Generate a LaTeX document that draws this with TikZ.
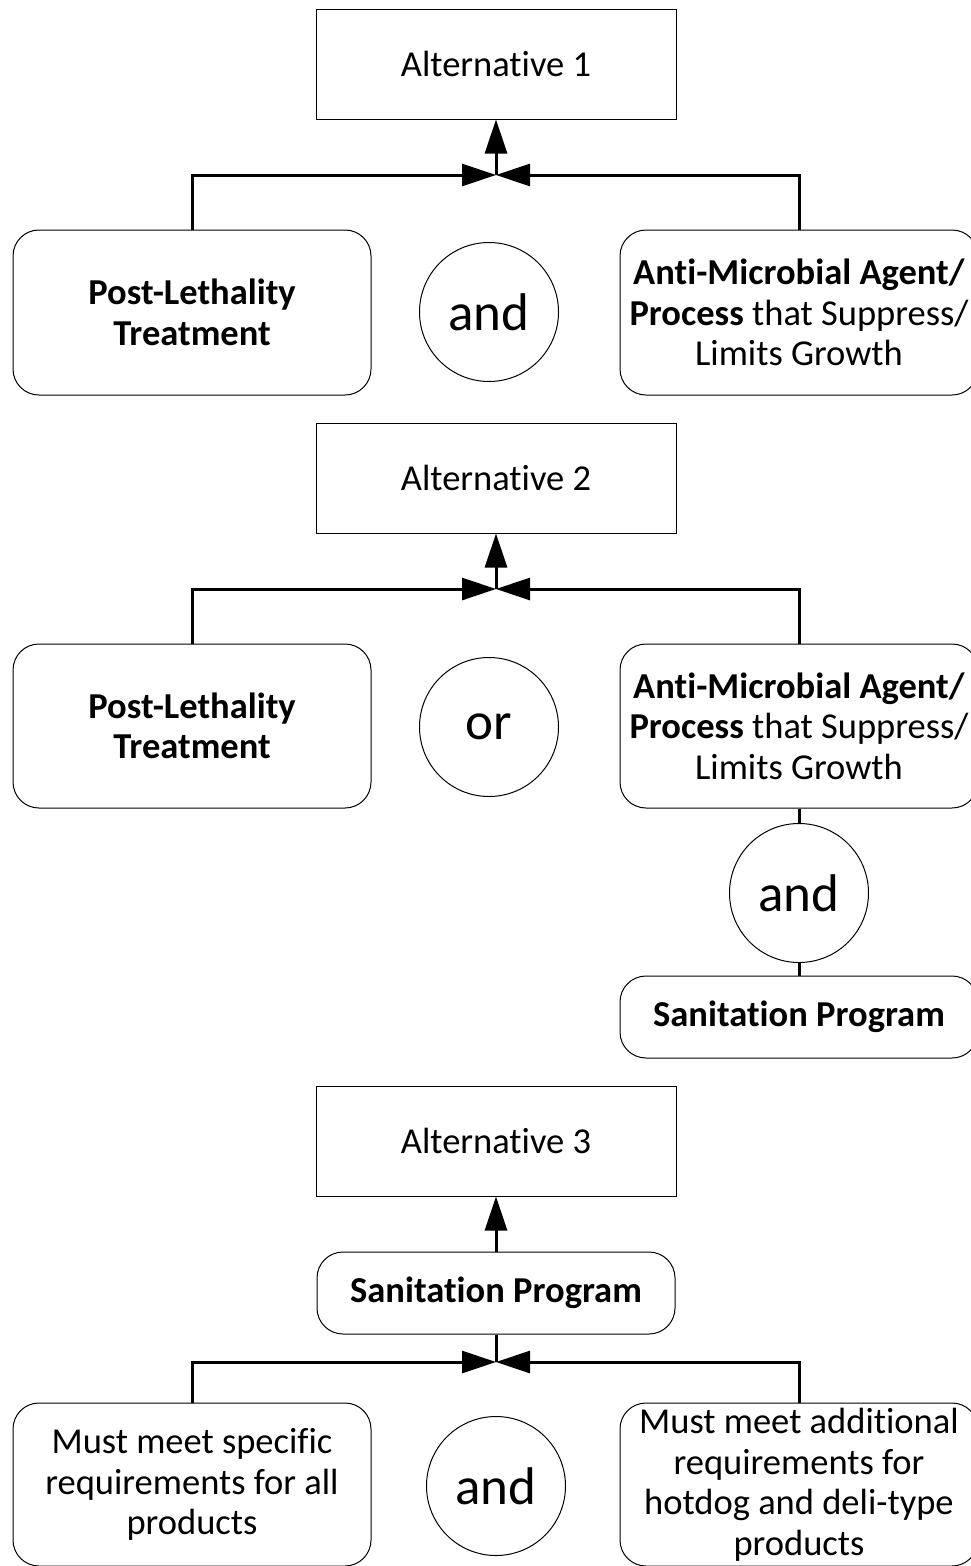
\documentclass[tikz,border=0pt]{standalone}
\usepackage{fontspec}
\setmainfont[Ligatures=NoCommon]{Carlito}
\usetikzlibrary{arrows.meta}
\begin{document}
\begin{tikzpicture}[x=1pt,y=-1pt,
  base/.style={font=\fontsize{36.5}{40.5}\selectfont, align=center, inner sep=0pt, draw=black, line width=1pt},
  altbox/.style={base, rectangle, minimum width=360pt, minimum height=110pt},
  rbox/.style={base, rectangle, rounded corners=26pt, minimum width=358pt, minimum height=#1},
  rbox/.default=165pt,
  opnode/.style={base, circle, minimum size=139pt, font=\fontsize{53}{56}\selectfont},
  conn/.style={line width=3pt},
  arr/.style={conn, -{Triangle[length=34pt,width=22pt]}},
]
\useasboundingbox (0,0) rectangle (970,1566);

% ---------- Alternative 1 ----------
\node[altbox] (alt1) at (496,64) {Alternative 1};
\coordinate (j1) at (496,175);
\node[rbox=165pt] (plt1) at (192,312.5) {\textbf{Post-Lethality}\\\textbf{Treatment}};
\node[opnode] (and1) at (489,312) {and};
\node[rbox=165pt] (amp1) at (799,312.5) {\textbf{Anti-Microbial Agent/}\\\textbf{Process} that Suppress/\\Limits Growth};
\draw[arr] (plt1.north) |- (j1);
\draw[arr] (amp1.north) |- (j1);
\draw[arr] (j1) -- (alt1.south);

% ---------- Alternative 2 ----------
\node[altbox] (alt2) at (496,478) {Alternative 2};
\coordinate (j2) at (496,589);
\node[rbox=164pt] (plt2) at (192,726) {\textbf{Post-Lethality}\\\textbf{Treatment}};
\node[opnode] (or2) at (489,727) {or};
\node[rbox=164pt] (amp2) at (799,726) {\textbf{Anti-Microbial Agent/}\\\textbf{Process} that Suppress/\\Limits Growth};
\node[opnode] (and2) at (799,893) {and};
\node[rbox=82pt] (san2) at (799,1017) {\textbf{Sanitation Program}};
\draw[arr] (plt2.north) |- (j2);
\draw[arr] (amp2.north) |- (j2);
\draw[arr] (j2) -- (alt2.south);
\draw[conn] (amp2.south) -- (and2.north);
\draw[conn] (and2.south) -- (san2.north);

% ---------- Alternative 3 ----------
\node[altbox] (alt3) at (496,1141) {Alternative 3};
\node[rbox=82pt] (san3) at (496,1293) {\textbf{Sanitation Program}};
\coordinate (j3) at (496,1362);
\node[rbox=163pt] (req1) at (192,1484.5) {Must meet specific\\requirements for all\\products};
\node[opnode] (and3) at (496,1486) {and};
\node[rbox=163pt] (req2) at (799,1484.5) {Must meet additional\\requirements for\\hotdog and deli-type\\products};
\draw[arr] (san3.north) -- (alt3.south);
\draw[conn] (san3.south) -- (j3);
\draw[arr] (req1.north) |- (j3);
\draw[arr] (req2.north) |- (j3);
\end{tikzpicture}
\end{document}
